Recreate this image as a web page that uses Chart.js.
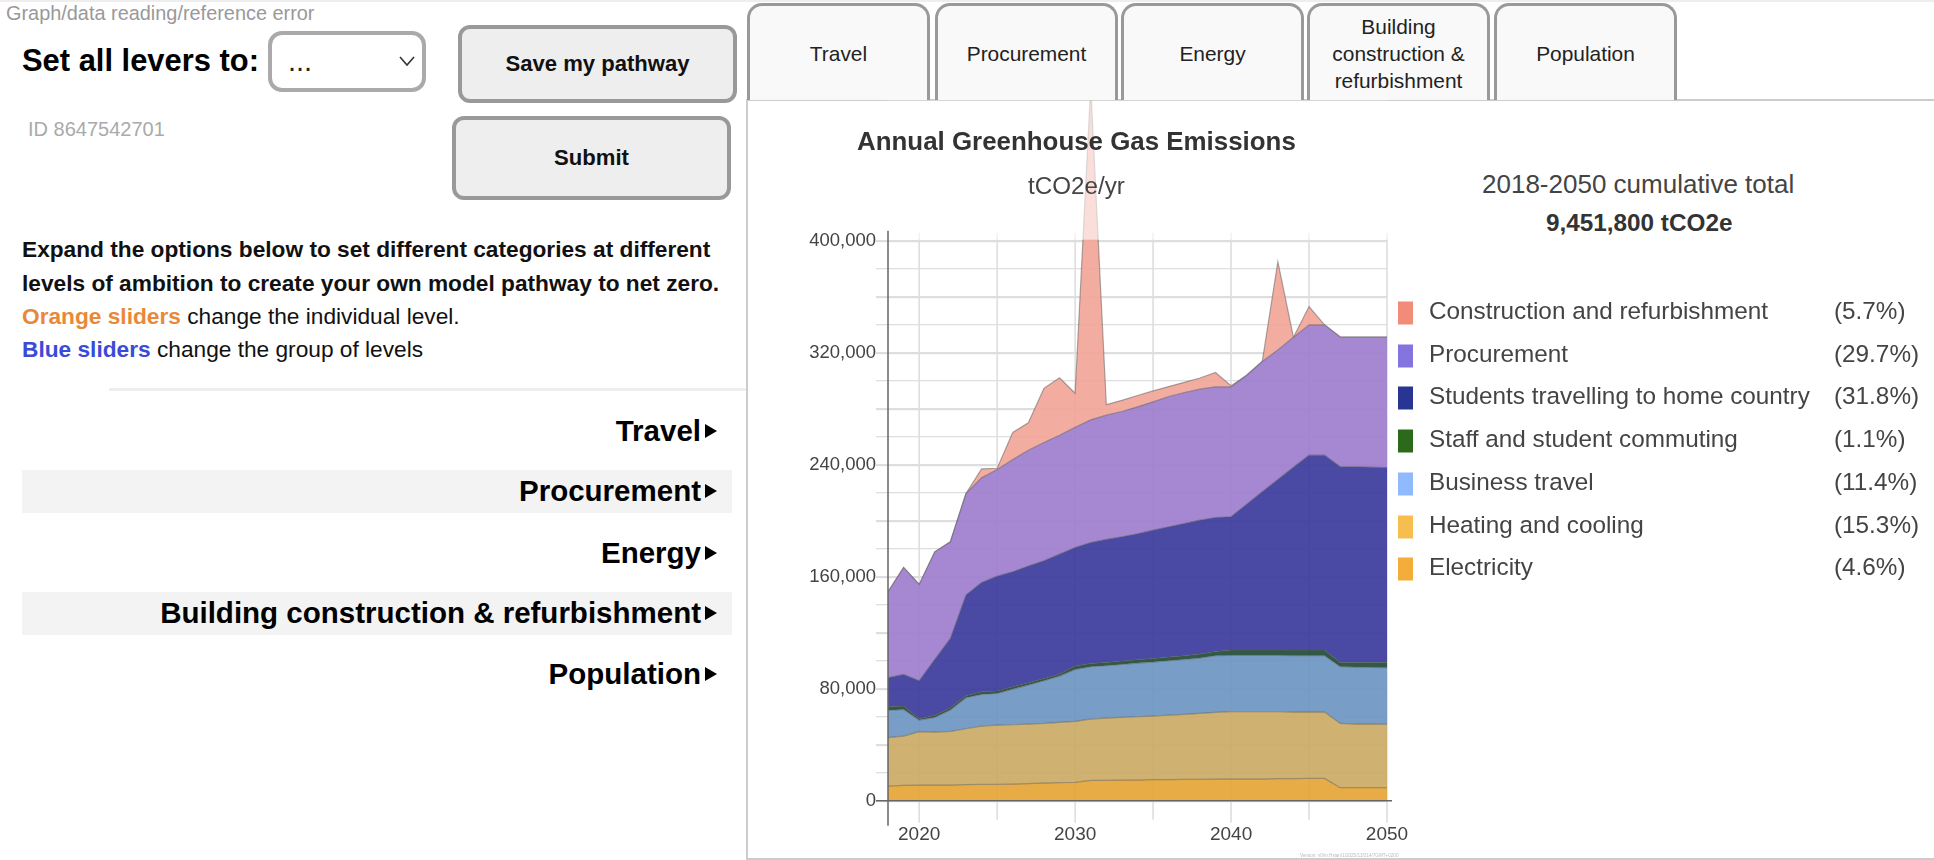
<!DOCTYPE html>
<html>
<head>
    <title>Annual Greenhouse Gas Emissions</title>
    <script src="https://cdn.jsdelivr.net/npm/chart.js"></script>
    <style>
        html, body { margin: 0; padding: 0; background: #fff; width: 1934px; height: 860px; overflow: hidden; }
        body { font-family: "Liberation Sans", Arial, sans-serif; position: relative; }
        .abs { position: absolute; white-space: nowrap; }
        .mid { transform: translateY(-50%); }
        .btn { position: absolute; box-sizing: border-box; border: 4px solid #999; border-radius: 12px; background: #eee;
               display: flex; align-items: center; justify-content: center; font-weight: bold; font-size: 22.1px; color: #111; }
        .tab { position: absolute; top: 3px; height: 97px; width: 183px; box-sizing: border-box; border: 3px solid #999; border-bottom: 0;
               border-radius: 15px 15px 0 0; background: #f9f9f9; display: flex; align-items: center; justify-content: center;
               text-align: center; font-size: 20.9px; line-height: 27px; color: #222; }
        .band { position: absolute; left: 22px; width: 710px; background: #f3f3f3; }
        .acc { position: absolute; right: 1233px; font-weight: bold; font-size: 29.5px; color: #000; white-space: nowrap; transform: translateY(-50%); }
        .tri { position: absolute; left: 705px; width: 0; height: 0; border-left: 12px solid #000; border-top: 7px solid transparent;
               border-bottom: 7px solid transparent; transform: translateY(-50%); }
        .intro { position: absolute; left: 22px; font-size: 22.7px; color: #111; white-space: nowrap; transform: translateY(-50%); }
        #chartCanvas { position: absolute; left: 750px; top: 100px; }
        .swatch { position: absolute; left: 1398px; width: 15px; height: 23px; transform: translateY(-50%); }
        .legendLabel { position: absolute; left: 1429px; font-size: 24.3px; color: #444; white-space: nowrap; transform: translateY(-50%); margin-top: -2px; }
        .legendPct { position: absolute; left: 1834px; font-size: 24.3px; color: #444; white-space: nowrap; transform: translateY(-50%); margin-top: -2px; }
    </style>
</head>
<body>
<div class="abs" style="left:0;top:0;width:1934px;height:2px;background:#eee"></div>
<div class="abs mid" style="left:6px;top:13px;font-size:19.9px;color:#999">Graph/data reading/reference error</div>
<div class="abs mid" style="left:22px;top:61px;font-size:30.9px;font-weight:bold;color:#000">Set all levers to:</div>
<div class="abs" style="left:268px;top:31px;width:158px;height:61px;box-sizing:border-box;border:4px solid #aaa;border-radius:14px">
    <span class="abs mid" style="left:16px;top:26px;font-size:29px;color:#222">...</span>
    <svg class="abs" style="left:127px;top:19px" width="16" height="14"><path d="M1 3 L8 11 L15 3" fill="none" stroke="#333" stroke-width="1.6"/></svg>
</div>
<div class="btn" style="left:458px;top:25px;width:279px;height:78px">Save my pathway</div>
<div class="btn" style="left:452px;top:116px;width:279px;height:84px">Submit</div>
<div class="abs mid" style="left:28px;top:129px;font-size:20px;color:#aaa">ID 8647542701</div>

<div class="intro" style="top:249px;font-weight:bold">Expand the options below to set different categories at different</div>
<div class="intro" style="top:283px;font-weight:bold">levels of ambition to create your own model pathway to net zero.</div>
<div class="intro" style="top:316px"><b style="color:#e8893a">Orange sliders</b> change the individual level.</div>
<div class="intro" style="top:349px"><b style="color:#3a4bd8">Blue sliders</b> change the group of levels</div>
<div class="abs" style="left:109px;top:388px;width:638px;height:3px;background:#eee"></div>

<div class="band" style="top:470px;height:43px"></div>
<div class="band" style="top:592px;height:43px"></div>
<div class="acc" style="top:431px">Travel</div><div class="tri" style="top:431px"></div>
<div class="acc" style="top:491px">Procurement</div><div class="tri" style="top:491px"></div>
<div class="acc" style="top:553px">Energy</div><div class="tri" style="top:553px"></div>
<div class="acc" style="top:613px">Building construction &amp; refurbishment</div><div class="tri" style="top:613px"></div>
<div class="acc" style="top:674px">Population</div><div class="tri" style="top:674px"></div>

<!-- panel border -->
<div class="abs" style="left:746px;top:99px;width:1188px;height:761px;box-sizing:border-box;border:2px solid #ccc;border-right:0"></div>

<canvas id="chartCanvas" width="680" height="760"></canvas>

<div class="tab" style="left:747px">Travel</div>
<div class="tab" style="left:935px">Procurement</div>
<div class="tab" style="left:1121px">Energy</div>
<div class="tab" style="left:1307px">Building<br>construction &amp;<br>refurbishment</div>
<div class="tab" style="left:1494px">Population</div>

<div class="abs mid" style="left:857px;top:141px;font-size:25.9px;font-weight:bold;color:#333">Annual Greenhouse Gas Emissions</div>
<div class="abs mid" style="left:1028px;top:186px;font-size:24.2px;color:#444">tCO2e/yr</div>
<div class="abs mid" style="left:1482px;top:184px;font-size:26px;color:#444">2018-2050 cumulative total</div>
<div class="abs mid" style="left:1546px;top:223px;font-size:24.3px;font-weight:bold;color:#333">9,451,800 tCO2e</div>
<div class="abs mid" style="left:1300px;top:855px;font-size:4.6px;color:#bbb">Version: v0/m.Hsian/1/2025/13/314/7GMT+0200</div>

<div id="legendBox"></div>

<script>
    const years = [2018, 2019, 2020, 2021, 2022, 2023, 2024, 2025, 2026, 2027, 2028,
        2029, 2030, 2031, 2032, 2033, 2034, 2035, 2036, 2037, 2038, 2039,
        2040, 2041, 2042, 2043, 2044, 2045, 2046, 2047, 2048, 2049, 2050];

    const electricity = [10470, 10950, 11190, 11190, 11190, 11420, 11660, 11660, 11900, 12140, 12610,
        12850, 13090, 14520, 14520, 14760, 14760, 14990, 14990, 15230, 15230, 15470,
        15470, 15470, 15470, 15710, 15710, 15950, 15950, 9280, 9280, 9280, 9280];
    const heating = [34510, 35220, 38080, 37840, 38320, 39980, 41650, 42360, 42360, 42600, 42600,
        43080, 43550, 43790, 44510, 44740, 45220, 45460, 46170, 46410, 47120, 47600,
        48080, 48080, 48080, 47840, 47600, 47360, 47360, 45930, 45460, 45460, 45220];
    const businessTravel = [19520, 19040, 8330, 10470, 15230, 22130, 22610, 22610, 25470, 27850, 30460,
        33080, 37130, 37370, 37370, 37840, 38320, 38560, 38790, 39270, 39510, 40460,
        40220, 40220, 40220, 40220, 40220, 40220, 40220, 40460, 40700, 40460, 40460];
    const commuting = [2620, 2380, 950, 1430, 1670, 1430, 1900, 1670, 1670, 1670, 1670,
        1430, 2380, 2380, 2380, 2380, 2380, 2620, 2620, 2620, 2860, 3090,
        3810, 3810, 3810, 3810, 4050, 4050, 4050, 3090, 3330, 3570, 3810];
    const studentsHome = [20710, 22610, 27130, 39980, 49500, 71880, 78060, 82110, 82110, 83300, 84010,
        85680, 84730, 86390, 87820, 88770, 89960, 91630, 93060, 94490, 95680, 95680,
        95200, 104240, 113050, 121860, 130660, 139230, 139230, 139710, 139710, 139470, 139230];
    const procurement = [61400, 76400, 68780, 76870, 69020, 72590, 74730, 76160, 80210, 82820, 84490,
        84970, 85920, 87580, 88770, 89490, 90680, 91630, 93060, 93530, 93530, 93300,
        92820, 92110, 93060, 92580, 92820, 93060, 93060, 92820, 92580, 92820, 93060];
    const construction = [0, 0, 0, 0, 0, 0, 6400, 900, 19300, 19600, 38700,
        41000, 24200, 238000, 7500, 8000, 8100, 7800, 7100, 7300, 8000, 10300,
        800, 0, 0, 63000, 0, 13100, 0, 0, 0, 0, 0];

    // legend order, top to bottom
    const legendNames = ['Construction and refurbishment', 'Procurement', 'Students travelling to home country',
        'Staff and student commuting', 'Business travel', 'Heating and cooling', 'Electricity'];
    const legendShares = ['(5.7%)', '(29.7%)', '(31.8%)', '(1.1%)', '(11.4%)', '(15.3%)', '(4.6%)'];
    const legendColours = ['#f28b78', '#8474e0', '#283593', '#2b6a1b', '#90bafb', '#f5be4e', '#f4ac3b'];

    const stackedSeries = [electricity, heating, businessTravel, commuting, studentsHome, procurement, construction];
    const areaColours = ['rgba(230,165,54,0.92)', 'rgba(203,171,101,0.92)', 'rgba(108,149,193,0.92)', 'rgba(32,76,54,0.92)',
        'rgba(59,59,157,0.92)', 'rgba(157,125,206,0.92)', 'rgba(242,165,152,0.92)'];
    const seriesNames = legendNames.slice().reverse();

    const legendBox = document.getElementById('legendBox');
    legendNames.forEach((name, i) => {
        const y = 313 + i * 42.7;
        legendBox.innerHTML += `<div class="swatch" style="top:${y}px;background:${legendColours[i]}"></div>` +
            `<div class="legendLabel" style="top:${y}px">${name}</div>` +
            `<div class="legendPct" style="top:${y}px">${legendShares[i]}</div>`;
    });

    const TOP_TICK = 400000;

    // the x grid and both axis lines stick out past the plot area, so they are drawn here from the scales
    const axisLines = {
        id: 'axisLines',
        beforeDatasetsDraw(chart) {
            const { ctx, scales: { x, y } } = chart;
            ctx.save();
            ctx.strokeStyle = '#dedede';
            ctx.lineWidth = 1.6;
            x.ticks.forEach(t => {
                const px = x.getPixelForValue(t.value);
                ctx.beginPath();
                ctx.moveTo(px, y.getPixelForValue(TOP_TICK) - 8);
                ctx.lineTo(px, y.bottom + (t.value % 10 === 0 ? 22 : 19));
                ctx.stroke();
            });
            ctx.restore();
        },
        afterDatasetsDraw(chart) {
            const { ctx, scales: { x, y } } = chart;
            const top = y.getPixelForValue(TOP_TICK);
            ctx.save();
            // everything above the top tick is washed out, as in the original
            ctx.fillStyle = 'rgba(255,255,255,0.6)';
            ctx.fillRect(x.left - 1, y.top, x.width + 2, top - y.top - 1);
            ctx.strokeStyle = '#666';
            ctx.lineWidth = 1.5;
            ctx.beginPath();
            ctx.moveTo(x.left, top - 10);
            ctx.lineTo(x.left, y.bottom + 25);
            ctx.moveTo(x.left - 12, y.bottom);
            ctx.lineTo(x.right + 5, y.bottom);
            ctx.stroke();
            ctx.restore();
        }
    };

    new Chart(document.getElementById('chartCanvas').getContext('2d'), {
        type: 'line',
        data: {
            datasets: stackedSeries.map((values, i) => ({
                label: seriesNames[i],
                data: values.map((v, j) => ({ x: years[j], y: v })),
                backgroundColor: areaColours[i],
                borderColor: 'rgba(90,90,90,0.5)',
                borderWidth: 1.2,
                fill: i === 0 ? 'origin' : '-1',
                tension: 0,
                pointRadius: 0
            }))
        },
        options: {
            responsive: false,
            animation: false,
            layout: { padding: { left: 0, right: 43, top: 0.7, bottom: 0 } },
            plugins: { legend: { display: false }, tooltip: { enabled: false } },
            scales: {
                x: {
                    type: 'linear',
                    min: 2018,
                    max: 2050,
                    grid: { display: false, drawTicks: false },
                    border: { display: false },
                    afterFit(scale) {
                        scale.height = 59.3;
                        scale.paddingLeft = scale.paddingRight = 0;
                    },
                    ticks: {
                        stepSize: 5,
                        includeBounds: false,
                        autoSkip: false,
                        maxRotation: 0,
                        padding: 23,
                        color: '#444',
                        font: { family: '"Liberation Sans"', size: 19 },
                        callback: v => (v % 10 === 0 ? String(v) : '')
                    }
                },
                y: {
                    stacked: true,
                    min: 0,
                    max: 500000,
                    border: { display: false },
                    grid: {
                        tickLength: 12,
                        color: c => (c.tick.value > TOP_TICK ? 'transparent' : '#dedede'),
                        tickColor: c => (c.tick.value > TOP_TICK ? 'transparent' : '#dedede'),
                        lineWidth: c => (c.tick.value % 40000 === 0 ? 2.2 : 1.3)
                    },
                    afterFit(scale) {
                        scale.width = 138;
                        scale.paddingTop = scale.paddingBottom = 0;
                    },
                    ticks: {
                        stepSize: 20000,
                        autoSkip: false,
                        padding: 0,
                        color: '#444',
                        font: { family: '"Liberation Sans"', size: 18.5 },
                        callback: v => (v % 80000 === 0 && v <= TOP_TICK ? v.toLocaleString('en-US') : '')
                    }
                }
            }
        },
        plugins: [axisLines]
    });
</script>
</body>
</html>
